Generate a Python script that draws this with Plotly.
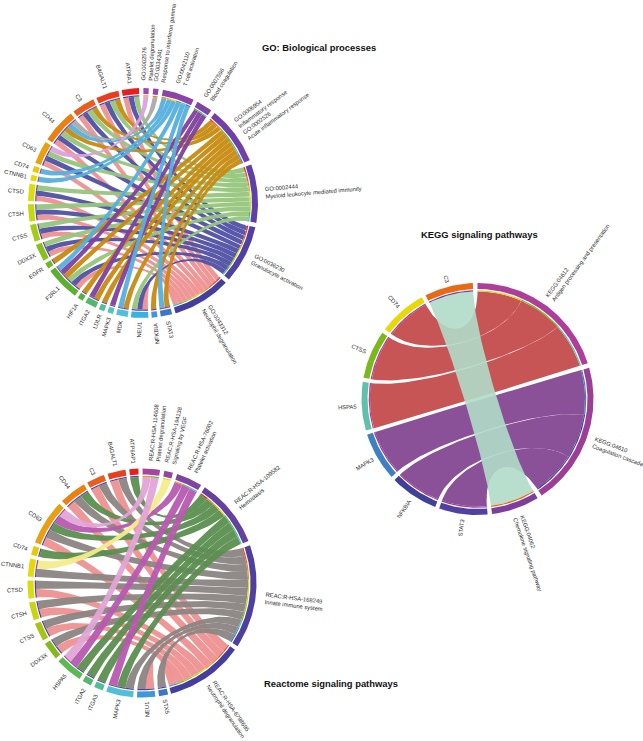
import numpy as np
import plotly.graph_objects as go

# ---------- data: gene -> linked terms ----------
GO_TERMS = ["GO:0002576<br>Platelet degranulation", "GO:0034341<br>Response to interferon gamma",
            "GO:0042110<br>T cell activation", "GO:0007596<br>Blood coagulation",
            "GO:0006954<br>Inflammatory response<br>GO:0002526<br>Acute inflammatory response",
            "GO:0002444<br>Myeloid leukocyte mediated immunity",
            "GO:0036230<br>Granulocyte activation", "GO:0043312<br>Neutrophil degranulation"]
GO_GENES = ["STAT3", "NFKBIA", "NEU1", "MDK", "MAPK3", "LDLR", "ITGA2", "HIF1A", "F2RL1", "EGFR", "DDX3X",
            "CTSS", "CTSH", "CTSD", "CTNNB1", "CD74", "CD63", "CD44", "C3", "B4GALT1", "ATP8A1"]
GO_LINKS = [[4, 2], [4], [7, 6, 5], [4, 2], [3], [4], [4, 3], [4], [7, 6, 5, 4, 3, 2], [4], [7, 6, 5],
            [7, 6, 5], [7, 6, 5], [7, 6, 5], [2], [2], [7, 6, 5, 0], [7, 6, 5, 4, 2, 1], [7, 6, 5, 4],
            [7, 6, 5, 4], [7, 6, 5]]

RE_TERMS = ["REAC:R-HSA-114608<br>Platelet degranulation", "REAC:R-HSA-194138<br>Signaling by VEGF",
            "REAC:R-HSA-76002<br>Platelet activation", "REAC:R-HSA-109582<br>Hemostasis",
            "REAC:R-HSA-168249<br>Innate immune system", "REAC:R-HSA-6798695<br>Neutrophil degranulation"]
RE_GENES = ["STX5", "NEU1", "MAPK3", "ITGA3", "ITGA2", "HSPA5", "DDX3X", "CTSS", "CTSH", "CTSD", "CTNNB1",
            "CD74", "CD63", "CD44", "C3", "B4GALT1", "ATP6AP1"]
RE_LINKS = [[4], [5, 4], [4, 3, 2], [3], [3], [3, 2, 0], [5, 4], [5, 4], [5, 4], [5, 4], [4, 1], [3],
            [5, 4, 3, 2, 0], [5, 4, 3], [5, 4], [5, 4], [3]]

KE_TERMS = ["KEGG:04612<br>Antigen processing and presentation", "KEGG:04610<br>Coagulation cascade",
            "KEGG:04062<br>Chemokine signaling pathway"]
KE_GENES = ["STAT3", "NFKBIA", "MAPK3", "HSPA5", "CTSS", "CD74", "C3"]
KE_LINKS = [[1], [1], [1], [0], [0], [0], [2]]

TITLES = ["GO: Biological processes", "KEGG signaling pathways", "Reactome signaling pathways"]

# ---------- colours ----------
GO_GENE_COL = ["#3A78C4", "#3E94D4", "#3CB0E4", "#50C0D8", "#52C4BC", "#52BE96", "#52B86E", "#54B04A", "#5CB030",
               "#6AB824", "#86C01C", "#A5CC14", "#C4D80E", "#DCDC0A", "#E8D80A", "#E8C80A", "#E9A010", "#EA8010",
               "#E95E1C", "#E83E1E", "#E8201C"]
GO_TERM_COL = ["#A04AA8", "#9844A8", "#8C44A8", "#7E44A8", "#7040A8", "#6040A4", "#5040A0", "#443E9C"]
GO_RIB_COL = ["#DDA0DD", "#AAAAAA", "#55B0DC", "#8040A0", "#C68A10", "#96C67C", "#5050A4", "#EE9090"]

RE_GENE_COL = ["#3A78C4", "#3C98DC", "#50C0D8", "#52BE96", "#52B86E", "#5CB850", "#86B81C", "#A5C414", "#C8D40E",
               "#DCDC0A", "#E8D80A", "#E8C80A", "#E9A010", "#EA8010", "#E95E1C", "#E83E1E", "#E8201C"]
RE_TERM_COL = ["#A844A0", "#9444A4", "#7E44A4", "#6440A0", "#50409E", "#443E9C"]
RE_RIB_COL = ["#E2A4D6", "#F4EC8C", "#B85AB0", "#5B8E4F", "#8A8583", "#EE9090"]

KE_GENE_COL = ["#5040A0", "#40409C", "#3E80C4", "#60C0A8", "#7CB81C", "#E8D80A", "#E96A14"]
KE_TERM_COL = ["#AE3E9C", "#9A3E98", "#7E3E9C"]
KE_RIB_COL = ["#C85555", "#8A5098", "#B0DCC8"]

# ---------- layout of each wheel ----------
TEXT_COL = "#2a2a2a"
FONT = "Liberation Sans"
FS = 5.8
CTRL = 0.6

fig = go.Figure()


def pt(c, r, deg):
    a = np.radians(deg)
    return c[0] + r * np.sin(a), c[1] - r * np.cos(a)


def band(c, r0, r1, a0, a1, col):
    n = max(3, int(abs(a1 - a0) * 1.5))
    t = np.linspace(a0, a1, n)
    x0, y0 = pt(c, r1, t)
    x1, y1 = pt(c, r0, t[::-1])
    fig.add_trace(go.Scatter(x=np.r_[x0, x1], y=np.r_[y0, y1], mode="lines", fill="toself", fillcolor=col,
                             line=dict(width=0), hoverinfo="skip", showlegend=False))


def edge(c, r, a, b, n=48):
    p0 = np.array(pt(c, r, a))
    p3 = np.array(pt(c, r, b))
    p1 = np.array(pt(c, r * CTRL, a))
    p2 = np.array(pt(c, r * CTRL, b))
    t = np.linspace(0, 1, n)[:, None]
    return (1 - t) ** 3 * p0 + 3 * t * (1 - t) ** 2 * p1 + 3 * t ** 2 * (1 - t) * p2 + t ** 3 * p3


def ribbon(c, r, a0, a1, b0, b1, col):
    ta = np.linspace(a0, a1, 8)
    tb = np.linspace(b0, b1, 8)
    xa, ya = pt(c, r, ta)
    xb, yb = pt(c, r, tb)
    e1 = edge(c, r, a1, b0)
    e2 = edge(c, r, b1, a0)
    x = np.r_[xa, e1[:, 0], xb, e2[:, 0]]
    y = np.r_[ya, e1[:, 1], yb, e2[:, 1]]
    fig.add_trace(go.Scatter(x=x, y=y, mode="lines", fill="toself", fillcolor=col, line=dict(width=0),
                             hoverinfo="skip", showlegend=False))


def text_w(s):
    w = 0.0
    for ch in s:
        if ch.isupper():
            w += 0.69
        elif ch.isdigit():
            w += 0.556
        elif ch in "iljtfr:- .":
            w += 0.27
        elif ch in "mw":
            w += 0.8
        else:
            w += 0.53
    return w * FS


def label(c, r, deg, text, left):
    lines = text.split("<br>")
    w = max(text_w(s) for s in lines)
    rot = deg - 270 if left else deg - 90
    x, y = pt(c, r + w / 2, deg)
    fig.add_annotation(x=x, y=y, text=text, showarrow=False, textangle=rot, xanchor="center", yanchor="middle",
                       align="right" if left else "left", font=dict(family=FONT, size=FS, color=TEXT_COL))


def wheel(c, R, terms, genes, links, tcol, rcol, gcol, t_start, t_unit, t_gap, g_start, g_unit, g_gap, alphas,
          order, nudge=None, flip=172):
    nt = len(terms)
    tcount = [sum(i in l for l in links) for i in range(nt)]
    tpos, a = [], t_start
    for i in range(nt):
        tpos.append(a)
        a += tcount[i] * t_unit + t_gap
    gpos, a = [], g_start
    for l in links:
        gpos.append(a)
        a += len(l) * g_unit + g_gap
    r_thin_out, r_thin_in = R - 7.2, R - 8.4
    used = [0] * nt
    rib = []
    assign = {}
    for gi in range(len(genes) - 1, -1, -1):
        for ti in links[gi]:
            s = tpos[ti] + used[ti] * t_unit
            used[ti] += 1
            assign[(gi, ti)] = s
    for gi, l in enumerate(genes):
        for j, ti in enumerate(links[gi]):
            s = gpos[gi] + j * g_unit
            rib.append((ti, s, s + g_unit, assign[(gi, ti)], assign[(gi, ti)] + t_unit, gi))
    for ti in order:
        col = rcol[ti]
        r, g, b = int(col[1:3], 16), int(col[3:5], 16), int(col[5:7], 16)
        for q in rib:
            if q[0] == ti:
                ribbon(c, r_thin_in, q[1], q[2], q[3], q[4], f"rgba({r},{g},{b},{alphas[ti]})")
    for q in rib:
        band(c, r_thin_in, r_thin_out, q[1], q[2], tcol[q[0]])
        band(c, r_thin_in, r_thin_out, q[3], q[4], gcol[q[5]])
    for i in range(nt):
        a0 = tpos[i]
        a1 = a0 + tcount[i] * t_unit
        band(c, R - 6, R, a0, a1, tcol[i])
        d = (nudge or {}).get(i, 0)
        label(c, R + 8.5, (a0 + a1) / 2 + d, terms[i], False)
    for gi, name in enumerate(genes):
        a0 = gpos[gi]
        a1 = a0 + len(links[gi]) * g_unit
        band(c, R - 6, R, a0, a1, gcol[gi])
        m = (a0 + a1) / 2
        label(c, R + 4.5, m, name, m > flip)


wheel((143, 203), 115, GO_TERMS, GO_GENES, GO_LINKS, GO_TERM_COL, GO_RIB_COL, GO_GENE_COL,
      0.2, 2.69, 2.2, 165.3, 2.9, 1.66, [0.95] * 8, [7, 6, 5, 4, 3, 2, 1, 0], nudge={0: 0.5, 1: 1.3})
wheel((142, 583), 114.5, RE_TERMS, RE_GENES, RE_LINKS, RE_TERM_COL, RE_RIB_COL, RE_GENE_COL,
      0.3, 4.4, 2.2, 166.8, 4.6, 1.9, [0.95] * 6, [5, 4, 3, 2, 1, 0], nudge={0: 1.2})
wheel((477.5, 399), 116, KE_TERMS, KE_GENES, KE_LINKS, KE_TERM_COL, KE_RIB_COL, KE_GENE_COL,
      0.0, 24.0, 2.4, 175.0, 24.3, 2.1, [1, 1, 0.9], [0, 1, 2])

for t, (x, y) in zip(TITLES, [(318.5, 47), (479, 234), (331, 683)]):
    fig.add_annotation(x=x, y=y, text=f"<b>{t}</b>", showarrow=False, xanchor="center", yanchor="middle",
                       font=dict(family=FONT, size=9.4, color="#111111"))

fig.update_layout(width=643, height=741, margin=dict(l=0, r=0, t=0, b=0), paper_bgcolor="white",
                  plot_bgcolor="white", showlegend=False,
                  xaxis=dict(range=[0, 643], visible=False, fixedrange=True),
                  yaxis=dict(range=[741, 0], visible=False, fixedrange=True))
fig.write_html("out.html", config={"displayModeBar": False}, post_script="document.body.style.margin='0';")
